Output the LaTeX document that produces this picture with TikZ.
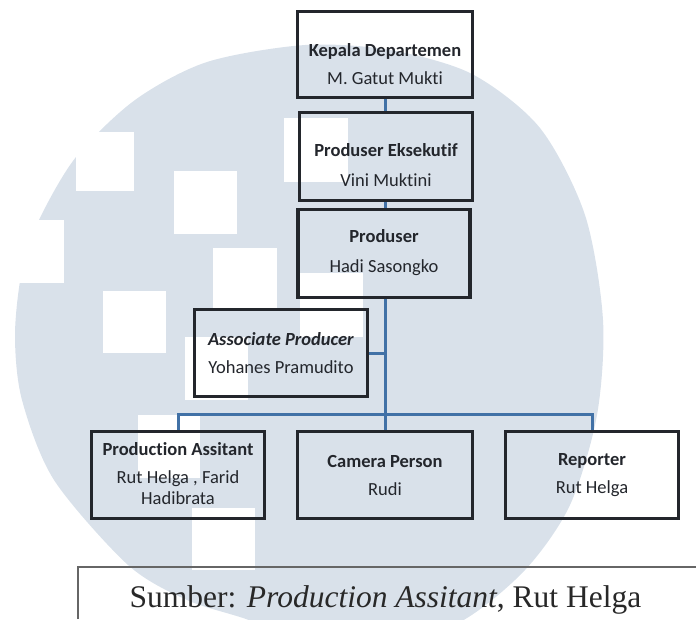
\documentclass[tikz,border=0pt]{standalone}
\usepackage{fontspec}
\setmainfont{Liberation Serif}
\newfontfamily\boxfont[Ligatures=NoCommon]{Carlito}
\usetikzlibrary{calc}
\definecolor{wmblue}{RGB}{217,225,234}
\definecolor{linkblue}{RGB}{65,113,166}
\definecolor{boxline}{RGB}{35,38,44}
\definecolor{captext}{RGB}{40,40,40}

\begin{document}
\begin{tikzpicture}[x=1pt, y=-1pt,
	box/.style={draw=boxline, line width=2.3pt, minimum width=#1, minimum height=86pt, inner sep=0pt},
	box/.default=172pt,
	txt/.style={font=\boxfont\fontsize{18.5}{21}\selectfont, text=boxline, align=center, inner sep=0pt},
	link/.style={draw=linkblue, line width=3pt}]
	%%%%% START %%%%%
	\useasboundingbox (0,0) rectangle (696,619);
	
	% watermark
	\begin{scope}
		\clip (0,0) rectangle (696,619);
		\fill[wmblue] plot[smooth cycle] coordinates {(305,45) (390,50) (472,74) (540,128) (585,215) (603,320) (597,415) (570,505) (525,570) (460,622) (380,645) (300,640) (246,619) (187,600) (128,565) (54,480) (22,400) (15,335) (22,270) (39,220) (76,157) (135,100) (207,62)};
		\fill[white] (76,132) rectangle (134,191);
		\fill[white] (174,171) rectangle (237,234);
		\fill[white] (284,118) rectangle (348,182);
		\fill[white] (213,248) rectangle (277,310);
		\fill[white] (103,291) rectangle (166,353);
		\fill[white] (0,220) rectangle (64,283);
		\fill[white] (300,273) rectangle (363,337);
		\fill[white] (185,337) rectangle (248,400);
		\fill[white] (138,415) rectangle (200,478);
		\fill[white] (192,508) rectangle (255,570);
	\end{scope}
	
	% boxes
	\node[box=174pt, minimum height=85pt] (kepala) at (385,54.5) {};
	\node[box, minimum height=87pt] (eksekutif) at (386,156.5) {};
	\node[box=171pt, minimum height=87pt] (produser) at (384,253.5) {};
	\node[box] (associate) at (281,353) {};
	\node[box] (pa) at (178,475) {};
	\node[box=174pt] (camera) at (385,475) {};
	\node[box] (reporter) at (592,475) {};
	
	% connectors
	\coordinate (bus) at (385,414);
	\draw[link] (kepala.south) -- (kepala.south |- eksekutif.north);
	\draw[link] (kepala.south |- eksekutif.south) -- (kepala.south |- produser.north);
	\draw[link] (kepala.south |- produser.south) -- (camera.north);
	\draw[link] (associate.east) -- (associate.east -| camera.north);
	\draw[link] (pa.north) |- (bus) -| (reporter.north);
	
	% redraw borders over connector ends
	\foreach \b in {kepala,eksekutif,produser,associate,pa,camera,reporter}
		\draw[boxline, line width=2.3pt] (\b.north west) rectangle (\b.south east);
	
	% texts
	\node[txt] (kepala-t) at (385,64) {\textbf{Kepala Departemen}\\[7pt]M. Gatut Mukti};
	\node[txt] (eksekutif-t) at (386,165) {\textbf{Produser Eksekutif}\\[9pt]Vini Muktini};
	\node[txt] (produser-t) at (384,253) {\textbf{Produser}\\[9pt]Hadi Sasongko};
	\node[txt] (associate-t) at (281,353) {\textbf{\textit{Associate Producer}}\\[7pt]Yohanes Pramudito};
	\node[txt] (pa-t) at (178,474) {\textbf{Production Assitant}\\[7pt]Rut Helga , Farid\\Hadibrata};
	\node[txt] (camera-t) at (385,475) {\textbf{Camera Person}\\[7pt]Rudi};
	\node[txt] (reporter-t) at (592,475) {\textbf{Reporter}\\[7pt]Rut Helga};
	
	% caption
	\draw[black!60, line width=1.3pt] (78,619) -- (78,567) -- (696,567);
	\node[anchor=base, font=\fontsize{31.5}{36}\selectfont, text=captext, inner sep=0pt] (sumber) at (385.5,607) {Sumber: \textit{Production Assitant}, Rut Helga};
	%%%%% END %%%%%
\end{tikzpicture}
\end{document}
